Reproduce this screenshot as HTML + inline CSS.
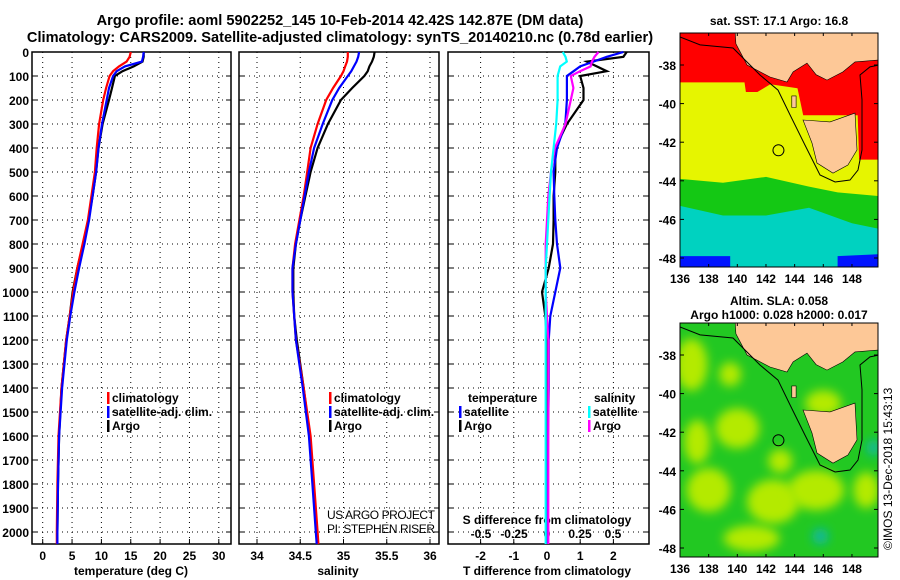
<!DOCTYPE html>
<html><head><meta charset="utf-8">
<style>
body{margin:0;background:#fff;}
svg{display:block;font-family:"Liberation Sans",sans-serif;font-weight:bold;}
</style></head>
<body>
<svg id="chart" width="900" height="580" viewBox="0 0 900 580" xmlns="http://www.w3.org/2000/svg">
<defs><filter id="blur" x="-50%" y="-50%" width="200%" height="200%"><feGaussianBlur stdDeviation="5"/></filter>
<clipPath id="clipm1"><rect x="680" y="33" width="198" height="234"/></clipPath>
<clipPath id="clipm2"><rect x="680" y="323" width="198" height="234"/></clipPath></defs>
<text x="340" y="25" text-anchor="middle" font-size="14.6">Argo profile: aoml 5902252_145 10-Feb-2014 42.42S 142.87E (DM data)</text>
<text x="340" y="42" text-anchor="middle" font-size="14.6">Climatology: CARS2009. Satellite-adjusted climatology: synTS_20140210.nc (0.78d earlier)</text>
<g id="g"></g>
</svg>
<script>
// ---- data ----
const depthTicks=[0,100,200,300,400,500,600,700,800,900,1000,1100,1200,1300,1400,1500,1600,1700,1800,1900,2000];
const tempTicks=[0,5,10,15,20,25,30];
const salTicks=[34,34.5,35,35.5,36];
const tdTicks=[-2,-1,0,1,2];
const sdTicks=[-0.5,-0.25,0,0.25,0.5];
const sdTickLabels=["-0.5","-0.25","0","0.25","0.5"];
const depths=[0,20,40,60,80,100,150,200,300,400,500,600,700,800,900,1000,1100,1200,1400,1600,1800,2000,2050];
const tempClim=[15.0,14.8,14.3,13.0,12.0,11.4,10.8,10.3,9.6,9.2,8.9,8.3,7.7,6.8,5.9,5.2,4.6,4.0,3.2,2.7,2.5,2.4,2.4];
const tempSat=[17.2,17.1,16.9,14.0,12.6,12.0,11.3,10.9,10.1,9.5,9.1,8.5,7.9,7.1,6.2,5.4,4.7,4.1,3.3,2.8,2.6,2.5,2.5];
const tempArgo=[17.2,17.2,17.0,15.5,13.6,12.3,11.8,11.3,10.2,9.5,9.1,8.5,7.8,6.9,5.9,5.1,4.6,4.0,3.2,2.8,2.6,2.5,2.5];
const salClim=[35.05,35.05,35.04,35.02,35.0,34.97,34.88,34.8,34.7,34.62,34.58,34.54,34.49,34.44,34.41,34.41,34.43,34.45,34.54,34.62,34.66,34.7,34.71];
const salSat=[35.18,35.17,35.15,35.12,35.09,35.05,34.95,34.87,34.76,34.66,34.6,34.55,34.5,34.45,34.41,34.41,34.43,34.45,34.53,34.6,34.64,34.68,34.69];
const salArgo=[35.36,35.35,35.33,35.3,35.28,35.24,35.1,34.97,34.82,34.7,34.62,34.56,34.5,34.45,34.42,34.42,34.43,34.46,34.54,34.61,34.65,34.69,34.7];
const tdSat=[2.3,1.8,1.4,1.0,0.8,0.6,0.6,0.6,0.55,0.3,0.2,0.22,0.25,0.3,0.4,0.25,0.1,0.05,0.05,0.03,0.02,0.02,0.02];
const tdArgo=[2.4,2.3,1.2,1.5,1.8,1.0,1.1,1.1,0.6,0.25,0.25,0.2,0.2,0.18,0.05,-0.15,-0.05,0,0,0,0,0,0];
const sdSat=[0.12,0.14,0.15,0.1,0.09,0.08,0.08,0.08,0.07,0.05,0.03,0.02,0.01,0.0,-0.01,-0.01,-0.01,-0.01,-0.01,-0.01,-0.01,-0.01,-0.01];
const sdArgo=[0.39,0.36,0.34,0.33,0.25,0.18,0.2,0.18,0.14,0.06,0.03,0.01,0.0,-0.01,-0.01,-0.01,0,0.01,0.01,0.01,0.01,0.01,0.01];
const lonTicks=[136,138,140,142,144,146,148];
const latTicks=[-38,-40,-42,-44,-46,-48];

// ---- scales ----
const Y=d=>52+d*0.24;
const XT=v=>42.7+v*5.87;
const XS=v=>257+(v-34)*86.5;
const XTD=v=>547+v*33.2;
const XSD=v=>547+v*132;
const LX=lon=>680+(lon-136)*14.33;
const LY=(lat,off)=>65+off+(-38-lat)*19.3;

const NS="http://www.w3.org/2000/svg";
const g=document.getElementById('g');
function mk(tag,attrs,parent){const e=document.createElementNS(NS,tag);for(const k in attrs)e.setAttribute(k,attrs[k]);(parent||g).appendChild(e);return e;}
function txt(x,y,s,anchor,size,parent){const t=mk('text',{x:x,y:y,'text-anchor':anchor||'middle','font-size':size||12},parent);t.textContent=s;return t;}

// panels
const panels=[{x0:32,x1:231,name:'temperature'},{x0:239,x1:439,name:'salinity'},{x0:448,x1:649,name:'difference'}];
panels.forEach(p=>{
  const r=mk('rect',{x:p.x0,y:52,width:p.x1-p.x0,height:492,fill:'none',stroke:'#000','stroke-width':1.5});
  
  
  depthTicks.forEach(d=>{
    const l=mk('line',{x1:p.x0,x2:p.x1,y1:Y(d),y2:Y(d),stroke:'#000','stroke-dasharray':'1,4'});
    
    
    mk('line',{x1:p.x0,x2:p.x0+5,y1:Y(d),y2:Y(d),stroke:'#000'});
    mk('line',{x1:p.x1,x2:p.x1-5,y1:Y(d),y2:Y(d),stroke:'#000'});
  });
});
depthTicks.forEach(d=>{
  const t=txt(29,Y(d)+5,String(d),'end',12);
  
  
});
function vgrid(ticks,sc,labels,ly){
  ticks.forEach((v,i)=>{
    const l=mk('line',{x1:sc(v),x2:sc(v),y1:52,y2:544,stroke:'#000','stroke-dasharray':'1,4'});
    
    
    mk('line',{x1:sc(v),x2:sc(v),y1:544,y2:539,stroke:'#000'});
    const t=txt(sc(v),ly,labels?labels[i]:String(v),'middle',12);
    
    
  });
}
vgrid(tempTicks,XT,null,560);
vgrid(salTicks,XS,null,560);
vgrid(tdTicks,XTD,null,560);
sdTicks.forEach((v,i)=>{
  const t=txt(XSD(v),538,sdTickLabels[i],'middle',12);
  
  
});
let t;
t=txt(131,575,'temperature (deg C)','middle',12);
t=txt(338,575,'salinity','middle',12);
t=txt(547,575,'T difference from climatology','middle',12);
t=txt(547,524,'S difference from climatology','middle',12);

function line(vals,sc,color,name){
  const pts=vals.map((v,i)=>sc(v).toFixed(1)+','+Y(depths[i]).toFixed(1)).join(' ');
  const p=mk('polyline',{points:pts,fill:'none',stroke:color,'stroke-width':2.2});
  
  
}
line(tempArgo,XT,'#000','temp-argo-line');
line(tempClim,XT,'#f00','temp-climatology-line');
line(tempSat,XT,'#00f','temp-satellite-line');
line(salArgo,XS,'#000','sal-argo-line');
line(salClim,XS,'#f00','sal-climatology-line');
line(salSat,XS,'#00f','sal-satellite-line');
line(tdArgo,XTD,'#000','tdiff-argo-line');
line(tdSat,XTD,'#00f','tdiff-satellite-line');
line(sdArgo,XSD,'#f0f','sdiff-argo-line');
line(sdSat,XSD,'#0ff','sdiff-satellite-line');

t=txt(327,519,'US ARGO PROJECT','start',12);t.setAttribute('font-weight','normal');t.setAttribute('textLength','108');
t=txt(327,533,'PI: STEPHEN RISER','start',12);t.setAttribute('font-weight','normal');t.setAttribute('textLength','108');

function legend(x,y,items,name){
  items.forEach((it,i)=>{
    if(it[1]){mk('rect',{x:x,y:y+i*14-10,width:2.5,height:12,fill:it[1]});}
    const tt=txt(x+(it[1]?5:0),y+i*14,it[0],'start',12);
    
    
  });
}
legend(107,402,[['climatology','#f00'],['satellite-adj. clim.','#00f'],['Argo','#000']],'temp-legend');
legend(329,402,[['climatology','#f00'],['satellite-adj. clim.','#00f'],['Argo','#000']],'sal-legend');
legend(468,402,[['temperature',null]],'tdiff-legend');
legend(459,416,[['satellite','#00f'],['Argo','#000']],'tdiff-legend');
legend(594,402,[['salinity',null]],'sdiff-legend');
legend(588,416,[['satellite','#0ff'],['Argo','#f0f']],'sdiff-legend');

// maps
const mainland=[[139.84,-36.2],[139.9,-36.9],[140.68,-38.0],[142.28,-38.62],[143.47,-38.88],[143.89,-38.36],[144.86,-37.9],[145.5,-38.5],[146.26,-38.78],[147.37,-38.36],[148.21,-37.84],[149.9,-37.74],[150,-36.2]];
const tas=[[144.58,-40.85],[146.47,-40.95],[148.21,-40.49],[148.35,-42.4],[147.72,-43.18],[146.68,-43.6],[145.56,-43.08],[145.21,-42.04]];
const shelf=[[136,-36.55],[137.4,-36.96],[139.7,-37.12],[141.58,-38.52],[142.84,-39.3],[143.68,-40.59],[144.72,-42.15],[145.77,-43.7],[146.82,-44.06],[147.86,-43.96],[148.42,-43.44],[148.7,-42.4],[148.7,-39.8],[148.56,-38.52],[149.26,-38.1],[149.9,-38]];
const island=[[143.8,-39.6],[144.1,-39.6],[144.1,-40.2],[143.8,-40.2]];
function poly(pts,off,attrs,name,parent){
  const p=mk('polygon',Object.assign({points:pts.map(a=>LX(a[0]).toFixed(1)+','+LY(a[1],off).toFixed(1)).join(' ')},attrs),parent);
  
  
  return p;
}
function pline(pts,off,parent){
  const p=mk('polyline',{points:pts.map(a=>LX(a[0]).toFixed(1)+','+LY(a[1],off).toFixed(1)).join(' '),fill:'none',stroke:'#000','stroke-width':1},parent);
  
  
}
function map(off,kind,title1,title2){
  const cg=mk('g',{'clip-path':'url(#clipm'+(off?2:1)+')'});
  if(kind==='sst'){
    poly([[136,-36],[150,-36],[150,-49],[136,-49]],off,{fill:'#e6f500'},'sst-warm-region',cg);
    poly([[136,-36],[149.9,-36],[149.9,-42.9],[148.5,-42.9],[148.4,-40.6],[144.6,-40.6],[144.2,-39.2],[142.3,-39.0],[141.4,-39.4],[140.6,-39.4],[140.5,-38.9],[136,-38.9]],off,{fill:'#f00'},'sst-hot-region',cg);
    poly([[136,-43.9],[139,-44.1],[142,-43.8],[145,-44.3],[147,-44.6],[150,-44.8],[150,-49],[136,-49]],off,{fill:'#14c814'},'sst-cool-region',cg);
    poly([[136,-45.3],[139,-45.8],[142,-45.8],[145,-45.4],[148,-46.2],[150,-46.5],[150,-49],[136,-49]],off,{fill:'#00d2c0'},'sst-cold-region',cg);
    poly([[136,-47.9],[139.5,-47.9],[139.5,-49],[136,-49]],off,{fill:'#0014ff'},'sst-coldest-west',cg);
    poly([[147,-47.9],[150,-47.8],[150,-49],[147,-49]],off,{fill:'#0014ff'},'sst-coldest-east',cg);
  } else {
    poly([[136,-36],[150,-36],[150,-49],[136,-49]],off,{fill:'#22c822'},'sla-background',cg);
    const blobs=[[136.8,-38.5,16,26],[140,-41.8,22,20],[138,-45,22,22],[142.5,-45.6,26,22],[145.5,-45,28,20],[141,-47.5,28,13],[146,-40.5,18,13],[149,-45,13,18],[137.2,-42.5,13,22],[139.5,-39,11,12],[143,-43.5,12,12]];
    blobs.forEach(b=>{const e=mk('ellipse',{cx:LX(b[0]),cy:LY(b[1],off),rx:b[2],ry:b[3],fill:'#b4ea00',filter:'url(#blur)'},cg);
      });
    const d=[[145.8,-47.4,8,8],[149.5,-42.8,7,8]];
    d.forEach(b=>{const e=mk('ellipse',{cx:LX(b[0]),cy:LY(b[1],off),rx:b[2],ry:b[3],fill:'#10b8a0',filter:'url(#blur)'},cg);
      });
  }
  poly(mainland,off,{fill:'#fdc897',stroke:'#000','stroke-width':0.6},'australia-mainland',cg);
  poly(tas,off,{fill:'#fdc897',stroke:'#000','stroke-width':0.6},'tasmania',cg);
  poly(island,off,{fill:'#fdc897',stroke:'#000','stroke-width':0.6},'king-island',cg);
  pline(shelf,off,cg);
  const c=mk('circle',{cx:LX(142.87),cy:LY(-42.42,off),r:5.5,fill:'none',stroke:'#000','stroke-width':1});
  
  const fr=mk('rect',{x:680,y:33+off,width:198,height:234,fill:'none',stroke:'#000','stroke-width':1});
  
  lonTicks.forEach(v=>{const tt=txt(LX(v),283+off,String(v),'middle',12);
    mk('line',{x1:LX(v),x2:LX(v),y1:33+off,y2:36+off,stroke:'#000'});mk('line',{x1:LX(v),x2:LX(v),y1:267+off,y2:264+off,stroke:'#000'});});
  latTicks.forEach(v=>{const tt=txt(676,LY(v,off)+5,String(v),'end',12);
    mk('line',{x1:680,x2:684,y1:LY(v,off),y2:LY(v,off),stroke:'#000'});mk('line',{x1:878,x2:874,y1:LY(v,off),y2:LY(v,off),stroke:'#000'});});
  let a=txt(779,off?305:25,title1,'middle',12);
  if(title2){a=txt(779,319,title2,'middle',12);}
}
map(0,'sst','sat. SST: 17.1 Argo: 16.8');
map(290,'sla','Altim. SLA: 0.058','Argo h1000: 0.028 h2000: 0.017');
const cp=mk('text',{x:0,y:0,transform:'translate(892,550) rotate(-90)','font-size':12,'font-weight':'normal'});
cp.textContent='©IMOS 13-Dec-2018 15:43:13';


</script>
</body></html>
